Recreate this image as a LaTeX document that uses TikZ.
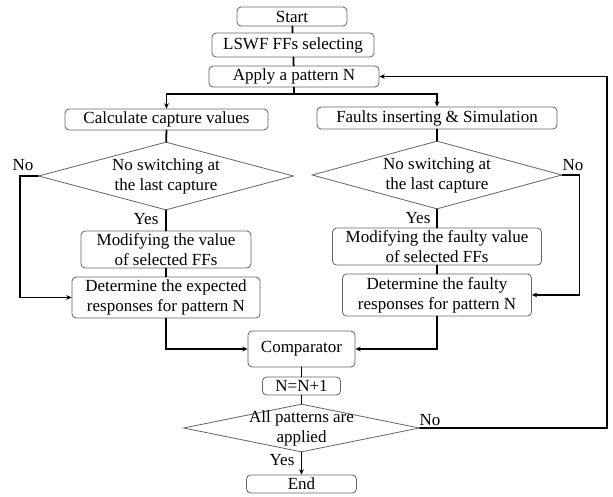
\documentclass[tikz,border=0pt]{standalone}
\usepackage{fontspec}
\setmainfont{Liberation Serif}
\usetikzlibrary{arrows.meta,shapes.geometric}

\begin{document}
\begin{tikzpicture}[>={Stealth[length=4.5pt,width=4pt]}, line cap=round,
  txt/.style={align=center, font=\fontsize{14.5}{17}\selectfont},
  stepbox/.style={txt, draw=black!60, line width=0.7pt, rounded corners=3.5pt, inner sep=0pt},
  testbox/.style={diamond, draw=black!60, line width=0.7pt, inner sep=0pt},
  flow/.style={line width=1.5pt}]
\useasboundingbox (0,0) rectangle (18.39,14.88);
% 主干
\node[stepbox, minimum width=3.3cm, minimum height=0.57cm] (start) at (8.76,14.385) {Start};
\node[stepbox, minimum width=4.86cm, minimum height=0.72cm] (lswf) at (8.79,13.53) {LSWF FFs selecting};
\node[stepbox, minimum width=5.1cm, minimum height=0.63cm] (apply) at (8.82,12.585) {Apply a pattern N};
\coordinate (fork) at (8.82,12.06);
% 左支：期望响应
\node[stepbox, minimum width=6.09cm, minimum height=0.63cm] (calc) at (4.995,11.295) {Calculate capture values};
\node[testbox, minimum width=7.65cm, minimum height=2.04cm,
  label={[txt]center:No switching at\\the last capture}] (dl) at (4.98,9.6) {};
\node[stepbox, minimum width=5.1cm, minimum height=1.11cm] (modl) at (4.98,7.395) {Modifying the value\\of selected FFs};
\node[stepbox, minimum width=5.64cm, minimum height=1.23cm] (detl) at (4.98,5.955) {Determine the expected\\responses for pattern N};
% 右支：故障响应
\node[stepbox, minimum width=7.2cm, minimum height=0.66cm] (faults) at (13.11,11.34) {Faults inserting \& Simulation};
\node[testbox, minimum width=7.5cm, minimum height=2.04cm,
  label={[txt]center:No switching at\\the last capture}] (dr) at (13.11,9.63) {};
\node[stepbox, minimum width=6.27cm, minimum height=1.11cm] (modr) at (13.11,7.485) {Modifying the faulty value\\of selected FFs};
\node[stepbox, minimum width=5.67cm, minimum height=1.26cm] (detr) at (13.11,6.03) {Determine the faulty\\responses for pattern N};
% 比较与循环
\node[stepbox, minimum width=3.21cm, minimum height=1.08cm] (comp) at (9.045,4.41) {Comparator};
\node[stepbox, minimum width=2.34cm, minimum height=0.54cm] (incr) at (9.045,3.3) {N=N+1};
\node[testbox, minimum width=7.08cm, minimum height=1.44cm,
  label={[txt]center:All patterns are\\applied}] (dall) at (9.045,2.04) {};
\node[stepbox, minimum width=3.3cm, minimum height=0.54cm] (end) at (9.045,0.36) {End};
\coordinate (back) at (18.21,2.04);
% 连线
\draw[flow] (start) -- (lswf);
\draw[flow] (lswf) -- (apply);
\draw[flow] (apply) -- (fork);
\draw[flow,->] (fork) -| (calc.north);
\draw[flow,->] (fork) -| (faults.north);
\draw[flow] (calc) -- (dl);
\draw[flow] (dl) -- (modl);
\draw[flow] (modl) -- (detl);
\draw[flow,->] (dl.west) -- ++(-0.54,0) |- (detl.west);
\draw[flow] (faults) -- (dr);
\draw[flow] (dr) -- (modr);
\draw[flow] (modr) -- (detr);
\draw[flow,->] (dr.east) -- ++(0.51,0) |- (detr.east);
\draw[flow,->] (detl.south) |- (comp.west);
\draw[flow,->] (detr.south) |- (comp.east);
\draw[flow] (comp) -- (incr);
\draw[flow] (incr) -- (dall);
\draw[flow,->] (dall) -- (end);
\draw[flow,->] (dall.east) -- (back) |- (apply.east);
% 标注
\node[txt] (nol) at (0.69,9.93) {No};
\node[txt] (yesl) at (4.38,8.31) {Yes};
\node[txt] (nor) at (17.19,9.93) {No};
\node[txt] (yesr) at (12.54,8.34) {Yes};
\node[txt] (noall) at (12.9,2.28) {No};
\node[txt] (yesall) at (8.46,1.08) {Yes};
\end{tikzpicture}
\end{document}
